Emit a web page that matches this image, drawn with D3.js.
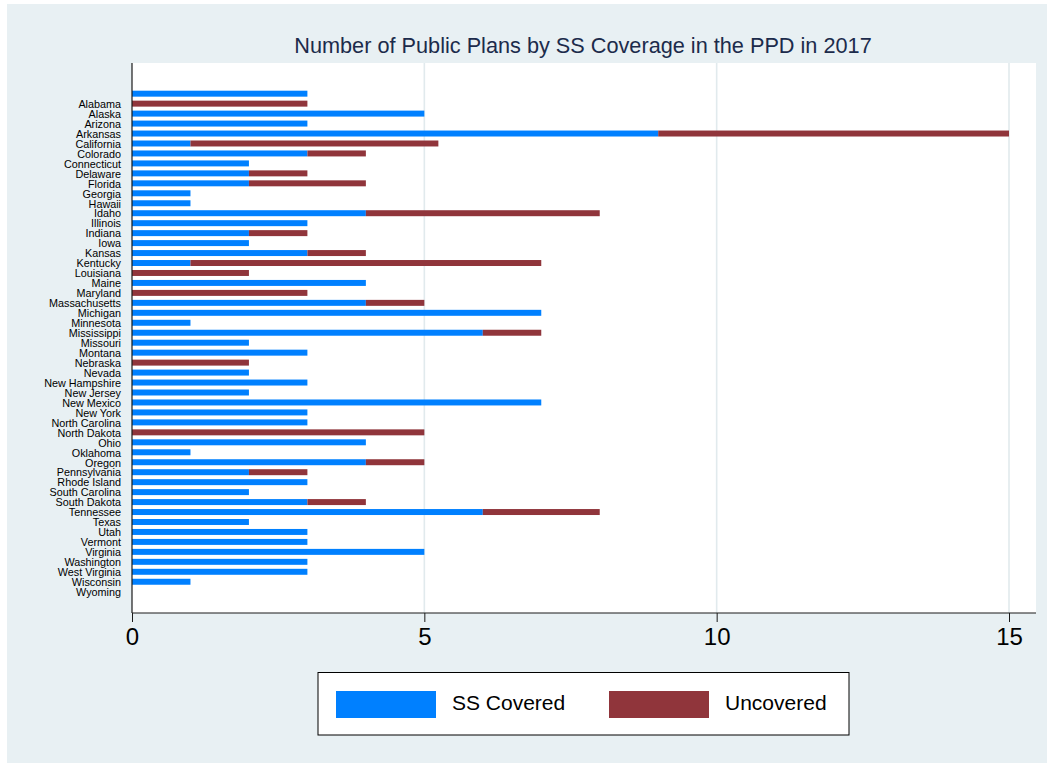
<!DOCTYPE html>
<html>
<head>
<meta charset="utf-8">
<script src="https://cdn.jsdelivr.net/npm/d3@7"></script>
<style>
  html, body { margin: 0; padding: 0; background: #ffffff; }
  svg { display: block; font-family: "Liberation Sans", Arial, sans-serif; }
</style>
</head>
<body>
<svg id="chart" width="1054" height="767"></svg>
<script>
// Row labels (the first row has no label)
const rowLabels = ["", "Alabama", "Alaska", "Arizona", "Arkansas", "California", "Colorado",
  "Connecticut", "Delaware", "Florida", "Georgia", "Hawaii", "Idaho", "Illinois", "Indiana",
  "Iowa", "Kansas", "Kentucky", "Louisiana", "Maine", "Maryland", "Massachusetts", "Michigan",
  "Minnesota", "Mississippi", "Missouri", "Montana", "Nebraska", "Nevada", "New Hampshire",
  "New Jersey", "New Mexico", "New York", "North Carolina", "North Dakota", "Ohio", "Oklahoma",
  "Oregon", "Pennsylvania", "Rhode Island", "South Carolina", "South Dakota", "Tennessee",
  "Texas", "Utah", "Vermont", "Virginia", "Washington", "West Virginia", "Wisconsin", "Wyoming"];

// Plans covered by Social Security, per row
const ssCovered = [3, 0, 5, 3, 9, 1, 3, 2, 2, 2, 1, 1, 4, 3, 2, 2, 3, 1, 0, 4, 0, 4, 7, 1, 6,
  2, 3, 0, 2, 3, 2, 7, 3, 3, 0, 4, 1, 4, 2, 3, 2, 3, 6, 2, 3, 3, 5, 3, 3, 1, 0];

// Plans not covered, per row
const uncovered = [0, 3, 0, 0, 6, 4.24, 1, 0, 1, 2, 0, 0, 4, 0, 1, 0, 1, 6, 2, 0, 3, 1, 0, 0, 1,
  0, 0, 2, 0, 0, 0, 0, 0, 0, 5, 0, 0, 1, 1, 0, 0, 1, 2, 0, 0, 0, 0, 0, 0, 0, 0];

const xTicks = [0, 5, 10, 15];
const seriesNames = ["SS Covered", "Uncovered"];
const seriesColors = ["#0080ff", "#90353b"];
const titleText = "Number of Public Plans by SS Coverage in the PPD in 2017";

const svg = d3.select("#chart");

// Outer graph region
svg.append("rect").attr("x", 7).attr("y", 4).attr("width", 1040).attr("height", 759)
  .attr("fill", "#e8f0f3");

const plot = { left: 132, right: 1036, top: 63, bottom: 613 };

// Plot region
svg.append("rect").attr("x", plot.left).attr("y", plot.top)
  .attr("width", plot.right - plot.left).attr("height", plot.bottom - plot.top)
  .attr("fill", "#ffffff");

const x = d3.scaleLinear().domain([0, 15]).range([plot.left, 1009]);

const rows = rowLabels.map((label, i) => ({
  key: "r" + i, label, covered: ssCovered[i], uncovered: uncovered[i]
}));

const y = d3.scaleBand()
  .domain(rows.map(d => d.key))
  .range([88.7, 596.7])
  .paddingInner(0.4)
  .paddingOuter(0.2);

// Vertical grid lines
svg.append("g").selectAll("line")
  .data(xTicks.filter(t => t > 0))
  .join("line")
  .attr("x1", d => x(d)).attr("x2", d => x(d))
  .attr("y1", plot.top).attr("y2", plot.bottom)
  .attr("stroke", "#e1eaed").attr("stroke-width", 1.6);

// Stacked bars
const stack = d3.stack().keys(["covered", "uncovered"]);
const layers = stack(rows);

svg.append("g").selectAll("g")
  .data(layers)
  .join("g")
  .attr("fill", (d, i) => seriesColors[i])
  .selectAll("rect")
  .data(d => d.filter(s => s[1] - s[0] > 0))
  .join("rect")
  .attr("x", d => x(d[0]))
  .attr("width", d => x(d[1]) - x(d[0]))
  .attr("y", d => y(d.data.key))
  .attr("height", y.bandwidth());

// Row labels
svg.append("g").selectAll("text")
  .data(rows.filter(d => d.label))
  .join("text")
  .attr("x", 121)
  .attr("y", d => y(d.key) + y.bandwidth() / 2 + 0.5)
  .attr("dy", "0.35em")
  .attr("text-anchor", "end")
  .attr("font-size", "10.8px")
  .attr("fill", "#000")
  .text(d => d.label);

// Left axis line
svg.append("line")
  .attr("x1", plot.left).attr("x2", plot.left)
  .attr("y1", plot.top).attr("y2", plot.bottom)
  .attr("stroke", "#1a1a1a").attr("stroke-width", 1.2);

// Bottom axis
const xAxis = d3.axisBottom(x).tickValues(xTicks).tickSize(9).tickPadding(6)
  .tickFormat(d3.format("d"));
const gx = svg.append("g").attr("transform", `translate(0,${plot.bottom})`).call(xAxis);
gx.select(".domain").attr("d", `M${plot.left},0H${plot.right}`)
  .attr("stroke", "#1a1a1a").attr("stroke-width", 1.2);
gx.selectAll(".tick line").attr("stroke", "#1a1a1a");
gx.selectAll(".tick text")
  .attr("font-family", "'Liberation Sans', Arial, sans-serif")
  .attr("font-size", "24px").attr("fill", "#000");

// Title
svg.append("text")
  .attr("x", (plot.left + plot.right) / 2 - 1)
  .attr("y", 53)
  .attr("text-anchor", "middle")
  .attr("font-size", "21.7px")
  .attr("fill", "#1c2b4b")
  .text(titleText);

// Legend
const legend = svg.append("g");
legend.append("rect").attr("x", 318).attr("y", 672.5).attr("width", 531).attr("height", 62.5)
  .attr("fill", "#ffffff").attr("stroke", "#000").attr("stroke-width", 1);
const legendX = [336, 609];
seriesNames.forEach((name, i) => {
  legend.append("rect").attr("x", legendX[i]).attr("y", 691)
    .attr("width", 100).attr("height", 27).attr("fill", seriesColors[i]);
  legend.append("text").attr("x", legendX[i] + 116).attr("y", 703)
    .attr("dy", "0.35em").attr("font-size", "21px").attr("fill", "#000")
    .text(name);
});
</script>
</body>
</html>
